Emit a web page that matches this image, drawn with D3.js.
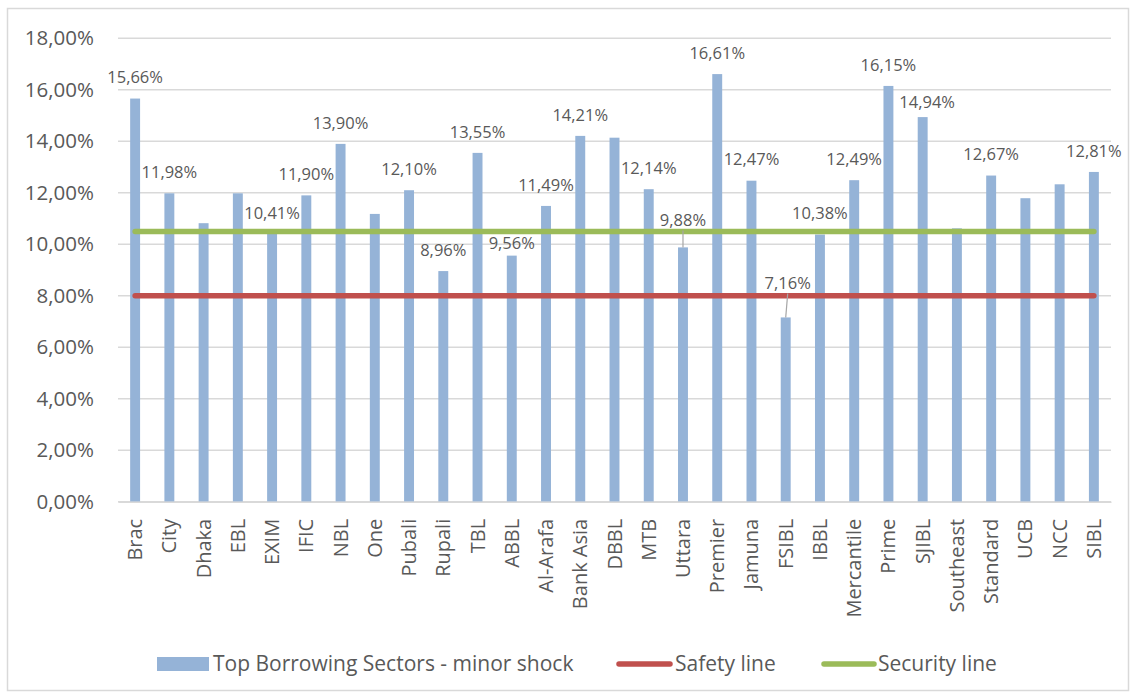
<!DOCTYPE html>
<html>
<head>
<meta charset="utf-8">
<script src="https://cdn.jsdelivr.net/npm/d3@7"></script>
<style>
  body { margin: 0; background: #fff; }
  text { font-family: "Open Sans", sans-serif; fill: #595959; }
</style>
</head>
<body>
<script>
var w = 1134;
var h = 695;

// categories (banks) and bar values
var banks = ["Brac","City","Dhaka","EBL","EXIM","IFIC","NBL","One","Pubali","Rupali",
             "TBL","ABBL","Al-Arafa","Bank Asia","DBBL","MTB","Uttara","Premier","Jamuna","FSIBL",
             "IBBL","Mercantile","Prime","SJIBL","Southeast","Standard","UCB","NCC","SIBL"];

var minorShock = [0.1566,0.1198,0.1082,0.1198,0.1041,0.1190,0.1390,0.1118,0.1210,0.0896,
                  0.1355,0.0956,0.1149,0.1421,0.1414,0.1214,0.0988,0.1661,0.1247,0.0716,
                  0.1038,0.1249,0.1615,0.1494,0.1062,0.1267,0.1179,0.1233,0.1281];

// which bars carry a data label in the original
var labelled = [1,1,0,0,1,1,1,0,1,1,
                1,1,1,1,0,1,1,1,1,1,
                1,1,1,1,0,1,0,0,1];

var safetyLevel = 0.08;
var securityLevel = 0.105;

var yTicks = [0,0.02,0.04,0.06,0.08,0.10,0.12,0.14,0.16,0.18];

var legendNames = ["Top Borrowing Sectors - minor shock","Safety line","Security line"];

// label nudges (px), Excel "best fit" moved a few of them
var labelNudge = {
  "ABBL":  {dx: 0,   dy: 9,  leader: false},
  "SJIBL": {dx: 4.5, dy: 6,  leader: false},
  "Uttara":{dx: 0,   dy: -6, leader: true},
  "FSIBL": {dx: 2,   dy: -13, leader: true}
};

var colBar = "#95b3d7";
var colSafety = "#c0504d";
var colSecurity = "#9bbb59";
var colGrid = "#d9d9d9";

// plot area
var pLeft = 118, pRight = 1111, pTop = 38.3, pBottom = 501.8;

var loc = d3.formatLocale({decimal: ",", thousands: ".", grouping: [3], currency: ["", ""]});
var pct = loc.format(".2%");

var svg = d3.select("body").append("svg")
            .attr("width", w)
            .attr("height", h);

// chart frame
svg.append("rect")
   .attr("x", 7.5).attr("y", 8.5)
   .attr("width", 1121).attr("height", 682)
   .attr("fill", "#fff")
   .attr("stroke", colGrid)
   .attr("stroke-width", 1.5);

var x = d3.scaleBand()
          .domain(banks)
          .range([pLeft, pRight])
          .paddingInner(0.71)
          .paddingOuter(0.355);

var y = d3.scaleLinear()
          .domain([0, 0.18])
          .range([pBottom, pTop]);

// gridlines
var grid = svg.append("g").attr("id", "grid");
grid.selectAll("line")
    .data(yTicks)
    .enter()
    .append("line")
    .attr("x1", pLeft)
    .attr("x2", pRight)
    .attr("y1", function(d){ return y(d); })
    .attr("y2", function(d){ return y(d); })
    .attr("stroke", colGrid)
    .attr("stroke-width", 1.5);

// y axis labels
var yAxis = svg.append("g")
               .attr("transform", "translate(" + (pLeft - 24) + ",0)")
               .call(d3.axisLeft(y).tickValues(yTicks).tickFormat(pct).tickSize(0).tickPadding(0));
yAxis.select(".domain").remove();
yAxis.selectAll("text")
     .attr("font-size", "20.5px")
     .attr("font-family", "Open Sans, sans-serif")
     .attr("fill", "#595959");

// bars
var barData = banks.map(function(b, i){ return {bank: b, v: minorShock[i], lab: labelled[i]}; });

svg.append("g").attr("id", "bars")
   .selectAll("rect")
   .data(barData)
   .enter()
   .append("rect")
   .attr("x", function(d){ return x(d.bank); })
   .attr("y", function(d){ return y(d.v); })
   .attr("width", x.bandwidth())
   .attr("height", function(d){ return y(0) - y(d.v); })
   .attr("fill", colBar);

// x axis categories
var xAxis = svg.append("g")
               .attr("transform", "translate(0," + pBottom + ")")
               .call(d3.axisBottom(x).tickSize(0).tickPadding(0));
xAxis.select(".domain")
     .attr("stroke", colGrid)
     .attr("stroke-width", 1.5);
xAxis.selectAll("text")
     .attr("font-size", "20px")
     .attr("font-family", "Open Sans, sans-serif")
     .attr("fill", "#595959")
     .attr("text-anchor", "end")
     .attr("transform", "translate(0,17) rotate(-90)")
     .attr("dy", "0.35em")
     .attr("x", 0)
     .attr("y", 0);

// reference lines
var line = d3.line()
             .x(function(d){ return x(d.bank) + x.bandwidth()/2; })
             .y(function(d){ return y(d.v); });

svg.append("path")
   .datum(banks.map(function(b){ return {bank: b, v: safetyLevel}; }))
   .attr("d", line)
   .attr("fill", "none")
   .attr("stroke", colSafety)
   .attr("stroke-width", 5.5)
   .attr("stroke-linecap", "round");

svg.append("path")
   .datum(banks.map(function(b){ return {bank: b, v: securityLevel}; }))
   .attr("d", line)
   .attr("fill", "none")
   .attr("stroke", colSecurity)
   .attr("stroke-width", 5.5)
   .attr("stroke-linecap", "round");

// data labels
var labData = barData.filter(function(d){ return d.lab; });
var labels = svg.append("g").attr("id", "labels");

labData.forEach(function(d){
  var n = labelNudge[d.bank] || {dx: 0, dy: 0, leader: false};
  var cx = x(d.bank) + x.bandwidth()/2;
  var ly = y(d.v) - 21 + n.dy;
  labels.append("text")
        .attr("x", cx + n.dx)
        .attr("y", ly)
        .attr("dy", "0.35em")
        .attr("text-anchor", "middle")
        .attr("font-size", "16.5px")
        .text(pct(d.v));
  if (n.leader) {
    labels.append("line")
          .attr("x1", cx + n.dx)
          .attr("y1", ly + 10)
          .attr("x2", cx)
          .attr("y2", y(d.v))
          .attr("stroke", "#a6a6a6")
          .attr("stroke-width", 1.2);
  }
});

// legend
var legend = svg.append("g").attr("id", "legend");
legend.append("rect")
      .attr("x", 157).attr("y", 657)
      .attr("width", 52).attr("height", 14)
      .attr("fill", colBar);
legend.append("text")
      .attr("x", 213).attr("y", 664).attr("dy", "0.35em")
      .attr("font-size", "21px")
      .text(legendNames[0]);

legend.append("line")
      .attr("x1", 619).attr("x2", 670)
      .attr("y1", 664).attr("y2", 664)
      .attr("stroke", colSafety).attr("stroke-width", 5.5)
      .attr("stroke-linecap", "round");
legend.append("text")
      .attr("x", 675).attr("y", 664).attr("dy", "0.35em")
      .attr("font-size", "21px")
      .text(legendNames[1]);

legend.append("line")
      .attr("x1", 824).attr("x2", 874)
      .attr("y1", 664).attr("y2", 664)
      .attr("stroke", colSecurity).attr("stroke-width", 5.5)
      .attr("stroke-linecap", "round");
legend.append("text")
      .attr("x", 878).attr("y", 664).attr("dy", "0.35em")
      .attr("font-size", "21px")
      .text(legendNames[2]);
</script>
</body>
</html>
